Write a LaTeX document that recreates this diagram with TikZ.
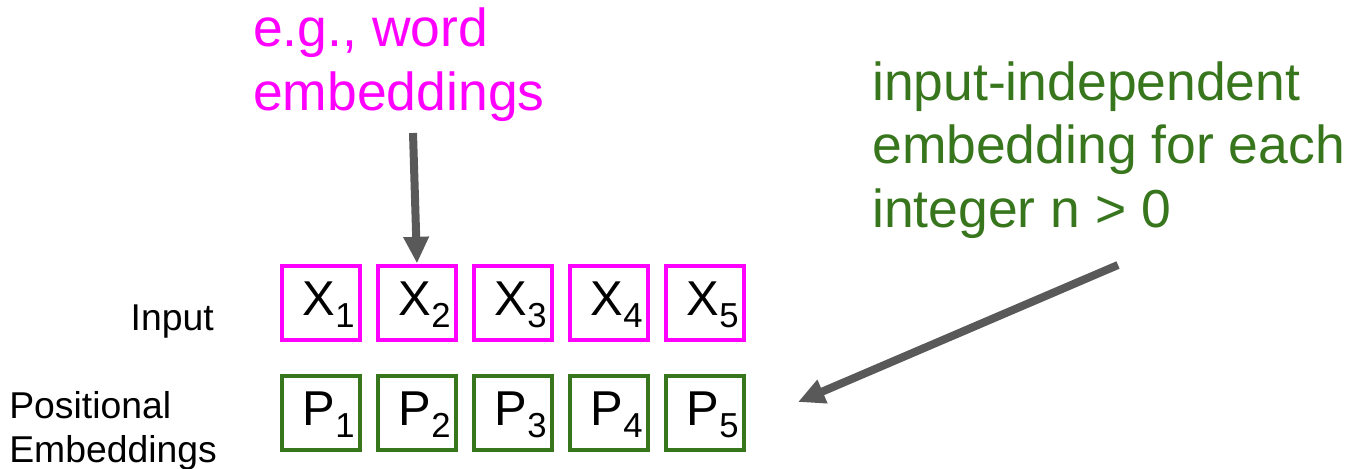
\documentclass[tikz,border=0pt]{standalone}
\usepackage{fontspec}
\setmainfont{Liberation Sans}
\usetikzlibrary{arrows.meta}

\definecolor{embmagenta}{HTML}{FF00FF}
\definecolor{posgreen}{HTML}{38761D}
\definecolor{arrowgray}{HTML}{595959}

\newcommand{\boxsub}[2]{\kern11.4pt#1\lower9.4pt\hbox{\fontsize{26}{26}\selectfont #2}}

\begin{document}
\begin{tikzpicture}[x=0.75pt, y=-0.75pt,
	cell/.style={draw, line width=3pt, minimum width=58pt, minimum height=55.5pt,
		inner sep=0pt, text height=26pt, text depth=7.2pt, font=\fontsize{36.7}{40}\selectfont},
	rowlabel/.style={inner sep=0pt, font=\fontsize{28}{33}\selectfont},
	note/.style={inner sep=0pt, align=left, font=\fontsize{40.1}{47.3}\selectfont},
	pointer/.style={draw=arrowgray, line width=6pt, -{Triangle[length=20pt, width=18pt]}}]

\useasboundingbox (0,0) rectangle (1350,468);

% Fila de entrada
	\foreach \i in {1, 2, ..., 5}
		\node[cell, draw=embmagenta] (x\i) at (225+96*\i, 302.5) {\boxsub{X}{\i}};

% Fila posicional
	\foreach \i in {1, 2, ..., 5}
		\node[cell, draw=posgreen] (p\i) at (225+96*\i, 412.5) {\boxsub{P}{\i}};

% Etiquetas (base = ultima linea)
\node[rowlabel, anchor=base east] (inlab) at (214,330) {Input};
\node[rowlabel, anchor=base west, align=left] (poslab) at (9,462) {Positional\\Embeddings};

% Notas
\node[note, text=embmagenta, anchor=base west] (wordnote) at (253,110) {e.g., word\\embeddings};
\node[note, text=posgreen, anchor=base west] (intnote) at (872,227) {input-independent\\embedding for each\\integer n > 0};

% Flechas
\coordinate (wordtail) at (413,133);
\draw[pointer] (wordtail) -- (x2.north);

\coordinate (inttail) at (1118,265);
\coordinate (inthead) at (798,402);
\draw[pointer] (inttail) -- (inthead);
\end{tikzpicture}
\end{document}
